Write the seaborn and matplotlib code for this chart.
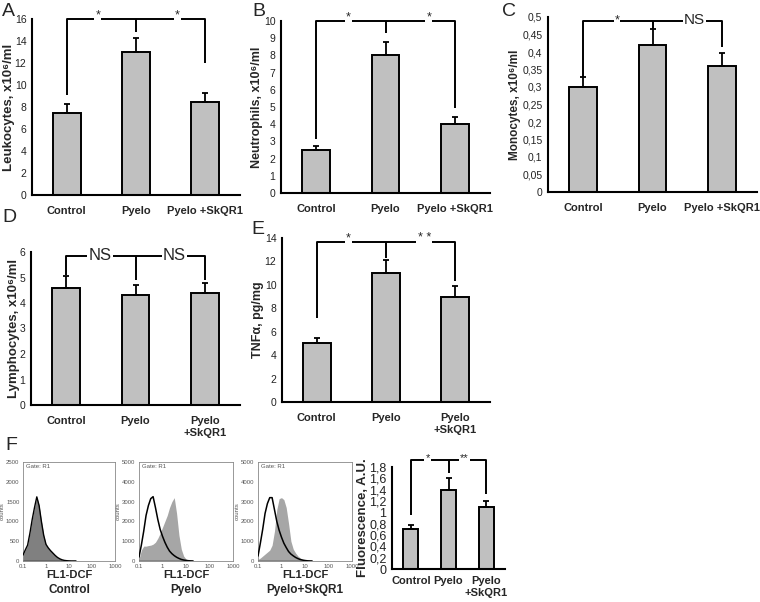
import numpy as np
import pandas as pd
import seaborn as sns
import matplotlib
matplotlib.use("Agg")
import matplotlib.pyplot as plt
from matplotlib.ticker import FuncFormatter, MultipleLocator

# ---- bar chart data (mean, upper error) ----
GROUPS = ["Control", "Pyelo", "Pyelo +SkQR1"]
GROUPS_WRAP = ["Control", "Pyelo", "Pyelo\n+SkQR1"]

leuko_mean = [7.5, 13.0, 8.5]
leuko_err = [0.75, 1.3, 0.8]
neutro_mean = [2.5, 8.0, 4.0]
neutro_err = [0.25, 0.8, 0.4]
mono_mean = [0.30, 0.42, 0.36]
mono_err = [0.03, 0.045, 0.037]
lympho_mean = [4.6, 4.3, 4.4]
lympho_err = [0.45, 0.4, 0.4]
tnf_mean = [5.0, 11.0, 9.0]
tnf_err = [0.5, 1.1, 0.9]
fluor_mean = [0.7, 1.4, 1.1]
fluor_err = [0.08, 0.2, 0.1]

# ---- flow cytometry histograms (log10 of FL1 vs counts) ----
fl1_log = [-1.0, -0.9, -0.8, -0.7, -0.6, -0.5, -0.4, -0.3, -0.2, -0.1, 0.0, 0.1,
           0.2, 0.3, 0.4, 0.5, 0.6, 0.7, 0.8, 0.9, 1.0, 1.1, 1.2, 1.3]
control_counts = [150, 280, 400, 700, 1050, 1350, 1620, 1400, 1000, 650, 420, 330,
                  260, 200, 140, 90, 55, 30, 15, 8, 3, 0, 0, 0]
pyelo_open = [200, 800, 1500, 2300, 2800, 3150, 3250, 2700, 2100, 1600, 1250, 950,
              700, 500, 370, 270, 190, 130, 80, 50, 30, 15, 5, 0]
pyelo_counts = [100, 550, 750, 750, 780, 800, 850, 950, 1150, 1400, 1700, 2000,
                2300, 2700, 3000, 3200, 2400, 1300, 600, 250, 100, 30, 0, 0]
skq_open = [250, 900, 1600, 2400, 2900, 3200, 3200, 2600, 2000, 1550, 1200, 900,
            680, 480, 350, 260, 180, 120, 75, 45, 25, 10, 3, 0]
skq_counts = [80, 150, 250, 350, 450, 550, 800, 1500, 2600, 3150, 3200, 3100,
              2700, 1900, 1000, 600, 400, 250, 150, 80, 40, 15, 0, 0]

BAR = "#c0c0c0"
W, H = 760, 602

sns.set_style("white")
plt.rcParams["font.family"] = ["Liberation Sans", "DejaVu Sans"]

fig = plt.figure(figsize=(7.6, 6.02), dpi=100)


def add_ax(left, top, right, bottom):
    return fig.add_axes([left / W, 1 - bottom / H, (right - left) / W, (bottom - top) / H])


def comma(v, pos):
    return ("%g" % round(v, 4)).replace(".", ",")


def bar_panel(ax, labels, means, errs, ymax, step, ylabel, label_x,
              tick_fs=7.5, label_fs=8.5):
    df = pd.DataFrame({"group": GROUPS, "value": means})
    sns.barplot(data=df, x="group", y="value", color=BAR, saturation=1, width=0.4,
                edgecolor="black", linewidth=1.4, errorbar=None, ax=ax)
    ax.errorbar(range(len(means)), means, yerr=[[0] * len(errs), errs], fmt="none",
                ecolor="black", elinewidth=1.3, capsize=2.2, capthick=1.3)
    ax.set_xlim(-0.5, 2.5)
    ax.set_ylim(0, ymax)
    ax.yaxis.set_major_locator(MultipleLocator(step))
    ax.yaxis.set_major_formatter(FuncFormatter(comma))
    ax.set_xticks([-0.5, 0.5, 1.5, 2.5])
    ax.set_xticklabels([])
    ax.set_xticks([0, 1, 2], minor=True)
    ax.set_xticklabels(labels, minor=True, fontweight="bold", fontsize=8)
    ax.tick_params(axis="x", which="minor", length=0, pad=8)
    ax.tick_params(axis="x", which="major", length=3, width=1.2, direction="out")
    ax.tick_params(axis="y", length=3, width=1.2, direction="out", labelsize=tick_fs,
                   labelcolor="#222222", pad=1)
    ax.set_xlabel("")
    ax.set_ylabel(ylabel, fontweight="bold", fontsize=label_fs)
    ax.yaxis.set_label_coords(label_x, 0.5)
    for s in ["top", "right"]:
        ax.spines[s].set_visible(False)
    for s in ["left", "bottom"]:
        ax.spines[s].set_linewidth(1.5)
        ax.spines[s].set_color("black")


def bracket(ax, ends, top, marks, mark_x, size=9, dy=0.0):
    kw = dict(color="black", lw=1.4, clip_on=False, solid_capstyle="butt", zorder=3)
    ax.plot([0, 0, 2, 2], [ends[0], top, top, ends[2]], **kw)
    ax.plot([1, 1], [top, ends[1]], **kw)
    for x, m in zip(mark_x, marks):
        ax.text(x, top + dy, m, ha="center", va="center", fontsize=size, zorder=4,
                bbox=dict(fc="white", ec="none", pad=0.8), clip_on=False)


def hist_panel(ax, ymax, ystep, filled, fill_color, open_line=None, outline=False):
    x = np.power(10.0, fl1_log)
    ax.fill_between(x, 0, filled, color=fill_color, lw=0, zorder=1)
    if outline:
        sns.lineplot(x=x, y=filled, color="black", lw=1.0, ax=ax, zorder=3)
    if open_line is not None:
        sns.lineplot(x=x, y=open_line, color="black", lw=1.1, ax=ax, zorder=3)
    ax.plot([0.1, 20], [0, 0], color="black", lw=1.0, zorder=3)
    ax.set_xscale("log")
    ax.set_xlim(0.1, 1000)
    ax.set_ylim(0, ymax)
    ax.set_xticks([0.1, 1, 10, 100, 1000])
    ax.set_xticklabels(["0.1", "1", "10", "100", "1000"])
    ax.yaxis.set_major_locator(MultipleLocator(ystep))
    ax.tick_params(which="both", labelsize=4.3, labelcolor="#555555", length=1.5,
                   width=0.5, color="#777777", pad=1)
    ax.tick_params(which="minor", length=1)
    ax.set_ylabel("counts", fontsize=4.3, color="#555555", labelpad=1)
    ax.set_xlabel("")
    for s in ax.spines.values():
        s.set_linewidth(0.6)
        s.set_color("#888888")
    ax.text(0.03, 0.98, "Gate: R1", transform=ax.transAxes, fontsize=4.3,
            color="#555555", va="top", ha="left")


# ---- A ----
axA = add_ax(32, 19, 240, 195)
bar_panel(axA, GROUPS, leuko_mean, leuko_err, 16, 2, "Leukocytes, x10\u2076/ml", -0.08,
          label_fs=9.5)
bracket(axA, [9.1, 14.8, 12.0], 16, ["*", "*"], [0.45, 1.6], size=9, dy=0.3)

# ---- B ----
axB = add_ax(281, 21, 490, 193)
bar_panel(axB, GROUPS, neutro_mean, neutro_err, 10, 1, "Neutrophils, x10\u2076/ml", -0.088,
          label_fs=9)
bracket(axB, [3.15, 9.3, 4.95], 10, ["*", "*"], [0.47, 1.62], size=9, dy=0.2)

# ---- C ----
axC = add_ax(548, 17, 757, 192)
bar_panel(axC, GROUPS, mono_mean, mono_err, 0.5, 0.05, "Monocytes, x10\u2076/ml", -0.13,
          label_fs=8.5)
bracket(axC, [0.33, 0.465, 0.415], 0.49, ["*", "NS"], [0.49, 1.6], size=11)
axC.texts[0].set_fontsize(9)

# ---- D ----
axD = add_ax(31, 252, 240, 405)
bar_panel(axD, GROUPS_WRAP, lympho_mean, lympho_err, 6, 1, "Lymphocytes, x10\u2076/ml",
          -0.055, label_fs=9.5)
bracket(axD, [5.1, 4.9, 4.9], 5.85, ["NS", "NS"], [0.49, 1.56], size=12)

# ---- E ----
axE = add_ax(282, 238, 490, 402)
bar_panel(axE, GROUPS_WRAP, tnf_mean, tnf_err, 14, 2, "TNF\u03b1, pg/mg", -0.085,
          label_fs=9)
bracket(axE, [7.2, 12.3, 10.3], 13.7, ["*", "* *"], [0.46, 1.55], size=9, dy=0.3)

# ---- F: histograms ----
h1 = add_ax(23, 462, 115, 561)
hist_panel(h1, 2500, 500, control_counts, "#808080", outline=True)
h2 = add_ax(139, 462, 233, 561)
hist_panel(h2, 5000, 1000, pyelo_counts, "#a6a6a6", open_line=pyelo_open)
h3 = add_ax(258, 462, 352, 561)
hist_panel(h3, 5000, 1000, skq_counts, "#a6a6a6", open_line=skq_open)

for (l, r), name in zip([(23, 115), (139, 233), (258, 352)],
                        ["Control", "Pyelo", "Pyelo+SkQR1"]):
    cx = (l + r) / 2 / W
    fig.text(cx, 1 - 575 / H, "FL1-DCF", ha="center", va="center",
             fontsize=8, fontweight="bold")
    fig.text(cx, 1 - 590 / H, name, ha="center", va="center",
             fontsize=8.5, fontweight="bold")

# ---- F: fluorescence bars ----
axF = add_ax(392, 467, 505, 569)
bar_panel(axF, GROUPS_WRAP, fluor_mean, fluor_err, 1.8, 0.2, "Fluorescence, A.U.",
          -0.2, tick_fs=9, label_fs=9.5)
axF.tick_params(axis="x", which="minor", pad=5)
bracket(axF, [0.96, 1.70, 1.33], 1.92, ["*", "**"], [0.45, 1.42], size=8, dy=0.03)

# ---- panel letters ----
for letter, (x, y) in {"A": (2, 11), "B": (252, 11), "C": (502, 11),
                       "D": (2, 218), "E": (251, 230), "F": (5, 445)}.items():
    fig.text(x / W, 1 - y / H, letter, fontsize=14, ha="left", va="center")

fig.savefig("out.png", dpi=100)
